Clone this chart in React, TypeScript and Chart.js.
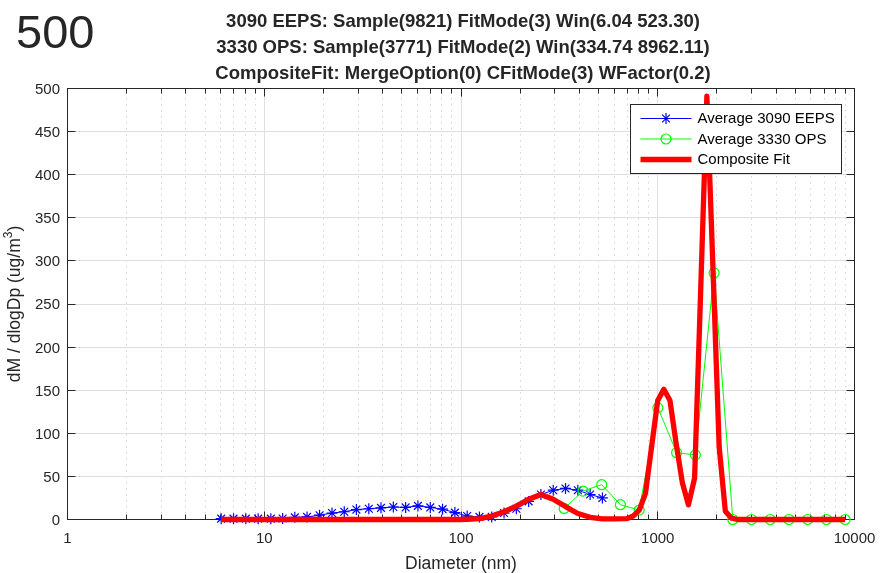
import React, { useEffect, useRef } from 'react';
import { Chart, registerables } from 'chart.js';

Chart.register(...registerables);

// ---------- data ----------
const EEPS_D = [6.04, 6.98, 8.06, 9.31, 10.8, 12.4, 14.3, 16.5, 19.1, 22.1, 25.5, 29.4, 34.0, 39.2, 45.3, 52.3, 60.4, 69.8, 80.6, 93.1, 107.5, 124.1, 143.3, 165.5, 191.1, 220.7, 254.8, 294.3, 339.8, 392.4, 453.2, 523.3];
const EEPS_V = [1, 1, 1, 1, 1, 1.2, 2.5, 3, 5, 7.5, 9, 11.5, 12.5, 13.5, 14.5, 14, 15.8, 14, 12, 8, 4, 3, 3, 7.5, 12.5, 21, 29, 34, 36, 34, 29, 25];

const OPS_D = [334.74, 416.8, 518.9, 646.1, 804.5, 1001.7, 1247.2, 1552.9, 1933.5, 2407.4, 2997.5, 3732.2, 4647.0, 5786.0, 7204.1, 8962.11];
const OPS_V = [12.8, 33, 40.4, 17.2, 11, 129.5, 77.5, 75, 286, 0, 0, 0, 0, 0, 0, 0];

const FIT_D = [6.04, 30, 100, 107.4, 124.1, 143.3, 165.5, 191.1, 220.7, 254.8, 294.3, 339.8, 392.4, 453.2, 523.3, 604.2, 697.5, 749.6, 805.4, 865.5, 930, 999.6, 1074, 1154, 1240.6, 1333, 1432, 1539, 1654, 1777, 1910, 2052, 2206, 2370, 2547, 5000, 8962.11];
const FIT_V = [0, 0, 0, 0.3, 1, 4, 9, 15.5, 23.5, 29, 23.5, 15, 7, 2.5, 0.8, 0.8, 1, 4, 11, 30, 84, 138, 151, 138, 88, 43, 17, 48, 268, 491, 289, 84, 9.5, 1.5, 0, 0, 0];

const X_TICKS = [1, 10, 100, 1000, 10000];
const Y_TICKS = [0, 50, 100, 150, 200, 250, 300, 350, 400, 450, 500];
const TITLE_LINES = [
  '3090 EEPS: Sample(9821) FitMode(3) Win(6.04 523.30)',
  '3330 OPS: Sample(3771) FitMode(2) Win(334.74 8962.11)',
  'CompositeFit: MergeOption(0) CFitMode(3) WFactor(0.2)',
];
const CORNER_LABEL = '500';
const X_TITLE = 'Diameter (nm)';
const Y_TITLE_MAIN = 'dM / dlogDp (ug/m';
const Y_TITLE_SUP = '3';
const Y_TITLE_END = ')';
const LEGEND_LABELS = ['Average 3090 EEPS', 'Average 3330 OPS', 'Composite Fit'];

// ---------- styles ----------
const FONT = '"Liberation Sans", Arial, Helvetica, sans-serif';
const AXIS_COLOR = '#262626';
const BLUE = '#0000ff';
const GREEN = '#00ff00';
const RED = '#ff0000';

const snap = (v: number) => Math.floor(v) + 0.5;

function drawStar(ctx: CanvasRenderingContext2D, x: number, y: number, r: number) {
  ctx.beginPath();
  for (let i = 0; i < 4; i++) {
    const ang = (i * Math.PI) / 4;
    const dx = Math.cos(ang) * r;
    const dy = Math.sin(ang) * r;
    ctx.moveTo(x - dx, y - dy);
    ctx.lineTo(x + dx, y + dy);
  }
  ctx.stroke();
}

const matlabPlugin = {
  id: 'matlabLook',
  beforeDraw(chart: any) {
    const ctx = chart.ctx;
    ctx.save();
    ctx.fillStyle = '#ffffff';
    ctx.fillRect(0, 0, chart.width, chart.height);
    ctx.restore();
  },
  beforeDatasetsDraw(chart: any) {
    const { ctx, chartArea: a } = chart;
    const xs = chart.scales.x;
    const ys = chart.scales.y;
    ctx.save();
    ctx.lineWidth = 1;

    // minor grid (dotted)
    ctx.strokeStyle = '#d2d2d2';
    ctx.setLineDash([1.5, 4.5]);
    ctx.beginPath();
    for (let k = 0; k < X_TICKS.length - 1; k++) {
      for (let m = 2; m <= 9; m++) {
        const px = snap(xs.getPixelForValue(m * X_TICKS[k]));
        ctx.moveTo(px, a.bottom);
        ctx.lineTo(px, a.top);
      }
    }
    ctx.stroke();
    ctx.setLineDash([]);

    // major grid
    ctx.strokeStyle = '#dfdfdf';
    ctx.beginPath();
    X_TICKS.forEach((t) => {
      const px = snap(xs.getPixelForValue(t));
      ctx.moveTo(px, a.top);
      ctx.lineTo(px, a.bottom);
    });
    Y_TICKS.forEach((t) => {
      const py = snap(ys.getPixelForValue(t));
      ctx.moveTo(a.left, py);
      ctx.lineTo(a.right, py);
    });
    ctx.stroke();

    // frame
    ctx.strokeStyle = AXIS_COLOR;
    const L = snap(a.left), R = snap(a.right), T = snap(a.top), B = snap(a.bottom);
    ctx.strokeRect(L, T, R - L, B - T);

    // ticks
    const MAJ = 8, MIN = 5;
    ctx.beginPath();
    X_TICKS.forEach((t) => {
      const px = snap(xs.getPixelForValue(t));
      ctx.moveTo(px, B); ctx.lineTo(px, B - MAJ);
      ctx.moveTo(px, T); ctx.lineTo(px, T + MAJ);
    });
    for (let k = 0; k < X_TICKS.length - 1; k++) {
      for (let m = 2; m <= 9; m++) {
        const px = snap(xs.getPixelForValue(m * X_TICKS[k]));
        ctx.moveTo(px, B); ctx.lineTo(px, B - MIN);
        ctx.moveTo(px, T); ctx.lineTo(px, T + MIN);
      }
    }
    Y_TICKS.forEach((t) => {
      const py = snap(ys.getPixelForValue(t));
      ctx.moveTo(L, py); ctx.lineTo(L + MAJ, py);
      ctx.moveTo(R, py); ctx.lineTo(R - MAJ, py);
    });
    ctx.stroke();

    // tick labels
    ctx.fillStyle = AXIS_COLOR;
    ctx.font = `15px ${FONT}`;
    ctx.textBaseline = 'alphabetic';
    ctx.textAlign = 'center';
    X_TICKS.forEach((t) => ctx.fillText(String(t), xs.getPixelForValue(t), 543));
    ctx.textAlign = 'right';
    Y_TICKS.forEach((t) => ctx.fillText(String(t), 60, ys.getPixelForValue(t) + 5.4));

    // x title
    ctx.font = `17.5px ${FONT}`;
    ctx.textAlign = 'center';
    ctx.fillText(X_TITLE, (a.left + a.right) / 2, 569);

    // y title (rotated, with superscript)
    ctx.save();
    ctx.translate(19.5, (a.top + a.bottom) / 2);
    ctx.rotate(-Math.PI / 2);
    ctx.textAlign = 'left';
    ctx.font = `17.5px ${FONT}`;
    const w1 = ctx.measureText(Y_TITLE_MAIN).width;
    const w3 = ctx.measureText(Y_TITLE_END).width;
    ctx.font = `12px ${FONT}`;
    const w2 = ctx.measureText(Y_TITLE_SUP).width;
    const total = w1 + w2 + w3;
    let cx = -total / 2;
    ctx.font = `17.5px ${FONT}`;
    ctx.fillText(Y_TITLE_MAIN, cx, 0);
    cx += w1;
    ctx.font = `12px ${FONT}`;
    ctx.fillText(Y_TITLE_SUP, cx, -7.5);
    cx += w2;
    ctx.font = `17.5px ${FONT}`;
    ctx.fillText(Y_TITLE_END, cx, 0);
    ctx.restore();

    // title
    ctx.font = `bold 18.5px ${FONT}`;
    ctx.textAlign = 'center';
    const cxT = (a.left + a.right) / 2 + 2;
    TITLE_LINES.forEach((line, i) => ctx.fillText(line, cxT, 27 + i * 26));

    // corner label
    ctx.font = `47px ${FONT}`;
    ctx.textAlign = 'left';
    ctx.fillText(CORNER_LABEL, 16, 48);

    ctx.restore();
  },
  afterDraw(chart: any) {
    const ctx = chart.ctx;
    ctx.save();
    const bx = 630.5, by = 104.5, bw = 211, bh = 69;
    ctx.fillStyle = '#ffffff';
    ctx.fillRect(bx, by, bw, bh);
    ctx.strokeStyle = AXIS_COLOR;
    ctx.lineWidth = 1;
    ctx.strokeRect(bx, by, bw, bh);

    const rows = [118.5, 139, 159.5];
    const x0 = 640.5, x1 = 691.5, xm = 666;

    // EEPS
    ctx.strokeStyle = BLUE;
    ctx.lineWidth = 1;
    ctx.beginPath(); ctx.moveTo(x0, rows[0]); ctx.lineTo(x1, rows[0]); ctx.stroke();
    ctx.lineWidth = 1.2;
    drawStar(ctx, xm, rows[0], 5.5);
    // OPS
    ctx.strokeStyle = GREEN;
    ctx.lineWidth = 1;
    ctx.beginPath(); ctx.moveTo(x0, rows[1]); ctx.lineTo(x1, rows[1]); ctx.stroke();
    ctx.lineWidth = 1.2;
    ctx.beginPath(); ctx.arc(xm, rows[1], 5, 0, Math.PI * 2); ctx.stroke();
    // Fit
    ctx.strokeStyle = RED;
    ctx.lineWidth = 5.3;
    ctx.beginPath(); ctx.moveTo(x0, rows[2]); ctx.lineTo(x1, rows[2]); ctx.stroke();

    ctx.fillStyle = '#000000';
    ctx.font = `15px ${FONT}`;
    ctx.textAlign = 'left';
    ctx.textBaseline = 'middle';
    LEGEND_LABELS.forEach((lab, i) => ctx.fillText(lab, 697.5, rows[i] + 0.5));
    ctx.restore();
  },
};

export default function App() {
  const ref = useRef<HTMLCanvasElement | null>(null);
  useEffect(() => {
    if (!ref.current) return;
    const toXY = (xs: number[], ys: number[]) => xs.map((x, i) => ({ x, y: ys[i] }));
    const chart = new Chart(ref.current, {
      type: 'line',
      data: {
        datasets: [
          {
            label: LEGEND_LABELS[0],
            data: toXY(EEPS_D, EEPS_V),
            borderColor: BLUE,
            borderWidth: 1,
            pointStyle: 'star',
            pointRadius: 5.5,
            pointBorderWidth: 1.2,
            pointBorderColor: BLUE,
            pointBackgroundColor: 'rgba(0,0,0,0)',
            tension: 0,
            fill: false,
            clip: false,
            order: 2,
          },
          {
            label: LEGEND_LABELS[1],
            data: toXY(OPS_D, OPS_V),
            borderColor: GREEN,
            borderWidth: 1,
            pointStyle: 'circle',
            pointRadius: 5,
            pointBorderWidth: 1.2,
            pointBorderColor: GREEN,
            pointBackgroundColor: 'rgba(0,0,0,0)',
            tension: 0,
            fill: false,
            clip: false,
            order: 1,
          },
          {
            label: LEGEND_LABELS[2],
            data: toXY(FIT_D, FIT_V),
            borderColor: RED,
            borderWidth: 5.3,
            borderJoinStyle: 'round',
            pointRadius: 0,
            tension: 0,
            fill: false,
            clip: false,
            order: 0,
          },
        ],
      } as any,
      options: {
        responsive: false,
        animation: false,
        devicePixelRatio: 1,
        events: [],
        layout: { padding: { left: 67.5, right: 26.5, top: 88.5, bottom: 53.5 } },
        scales: {
          x: { type: 'logarithmic', min: 1, max: 10000, display: false },
          y: { type: 'linear', min: 0, max: 500, display: false },
        },
        plugins: {
          legend: { display: false },
          tooltip: { enabled: false },
          title: { display: false },
        },
      } as any,
      plugins: [matlabPlugin],
    });
    return () => chart.destroy();
  }, []);
  return (
    <div style={{ position: 'fixed', left: 0, top: 0, width: 881, height: 573, background: '#fff' }}>
      <canvas ref={ref} width={881} height={573} style={{ display: 'block' }} />
    </div>
  );
}
